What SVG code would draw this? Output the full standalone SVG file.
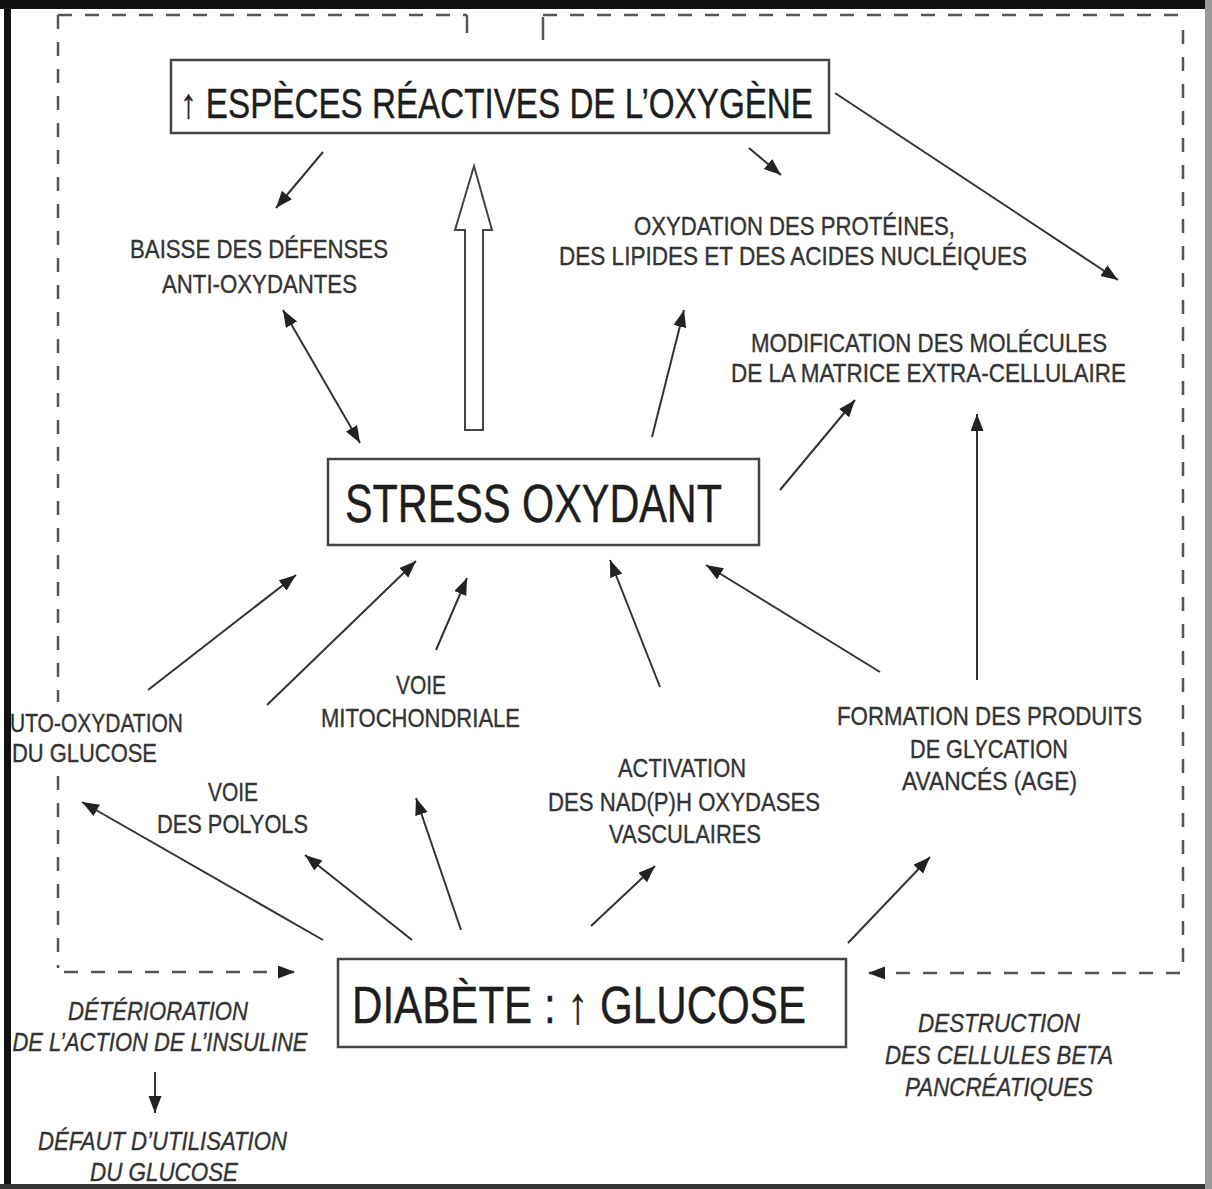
<svg xmlns="http://www.w3.org/2000/svg" width="1212" height="1189" viewBox="0 0 1212 1189">
<style>
.box{fill:#fff;stroke:#444;stroke-width:2.5}
.big{font-family:"Liberation Sans",Arial,sans-serif;fill:#1e1e1e;stroke:#1e1e1e;stroke-width:0.4;text-anchor:middle}
.t{font-family:"Liberation Sans",Arial,sans-serif;font-size:25px;fill:#333;stroke:#333;stroke-width:0.35;text-anchor:middle}
.ti{font-family:"Liberation Sans",Arial,sans-serif;font-size:25px;font-style:italic;fill:#333;stroke:#333;stroke-width:0.35;text-anchor:middle}
.c{fill:none;stroke:#333;stroke-width:2}
.d{fill:none;stroke:#555;stroke-width:2.5;stroke-dasharray:14 13}
</style>
<defs>
<marker id="ah" markerUnits="userSpaceOnUse" markerWidth="18" markerHeight="14" refX="17" refY="6.5" orient="auto-start-reverse">
<path d="M0,0 L17,6.5 L0,13 z" fill="#222"/>
</marker>
</defs>
<rect x="0" y="0" width="1212" height="1189" fill="#fff"/>

<g id="frame-dashed">
<path class="d" d="M58,15 L467,15"/>
<path d="M467,15 L467,33" stroke="#555" stroke-width="2.5"/>
<path d="M543,40 L543,17" stroke="#555" stroke-width="2.5"/>
<path class="d" d="M543,15 L1183,15"/>
<path class="d" d="M58,15 L58,702"/>
<path class="d" d="M58,776 L58,968"/>
<path class="d" d="M1183,30 L1183,972"/>
</g>

<g id="connectors">
<path class="c" d="M323,152 L276,208" marker-end="url(#ah)"/>
<path class="c" d="M749,148 L781,175" marker-end="url(#ah)"/>
<path class="c" d="M835,93 L1118,280" marker-end="url(#ah)"/>
<path class="c" d="M283,310 L360,443" marker-start="url(#ah)" marker-end="url(#ah)"/>
<path class="c" d="M652,437 L684,310" marker-end="url(#ah)"/>
<path class="c" d="M780,490 L855,400" marker-end="url(#ah)"/>
<path class="c" d="M977,680 L977,414" marker-end="url(#ah)"/>
<path class="c" d="M148,690 L296,575" marker-end="url(#ah)"/>
<path class="c" d="M267,705 L416,561" marker-end="url(#ah)"/>
<path class="c" d="M436,650 L467,578" marker-end="url(#ah)"/>
<path class="c" d="M660,687 L610,560" marker-end="url(#ah)"/>
<path class="c" d="M880,672 L706,565" marker-end="url(#ah)"/>
<path class="c" d="M323,940 L82,802" marker-end="url(#ah)"/>
<path class="c" d="M412,940 L305,855" marker-end="url(#ah)"/>
<path class="c" d="M461,930 L416,798" marker-end="url(#ah)"/>
<path class="c" d="M591,926 L655,866" marker-end="url(#ah)"/>
<path class="c" d="M848,943 L930,857" marker-end="url(#ah)"/>
<path class="c" d="M155,1072 L155,1113" marker-end="url(#ah)"/>
<path class="d" d="M64,972 L295,972" marker-end="url(#ah)"/>
<path class="d" d="M1180,973 L868,973" marker-end="url(#ah)"/>
<polygon points="465,430 483,430 483,230 492,230 474,166 455,230 465,230" fill="#fff" stroke="#444" stroke-width="2"/>
</g>

<g id="node-especes">
<rect class="box" x="171" y="60" width="658" height="73"/>
<text class="big" x="496.5" y="118" font-size="42" textLength="633" lengthAdjust="spacingAndGlyphs">↑ ESPÈCES RÉACTIVES DE L’OXYGÈNE</text>
</g>
<g id="node-stress">
<rect class="box" x="328" y="459" width="431" height="86"/>
<text class="big" x="533.5" y="522" font-size="54" textLength="377" lengthAdjust="spacingAndGlyphs">STRESS OXYDANT</text>
</g>
<g id="node-diabete">
<rect class="box" x="338" y="959" width="508" height="88"/>
<text class="big" x="579" y="1023" font-size="52" textLength="454" lengthAdjust="spacingAndGlyphs">DIABÈTE : ↑ GLUCOSE</text>
</g>

<g id="node-baisse">
<text class="t" x="259" y="258" textLength="258" lengthAdjust="spacingAndGlyphs">BAISSE DES DÉFENSES</text>
<text class="t" x="259.5" y="293" textLength="195" lengthAdjust="spacingAndGlyphs">ANTI-OXYDANTES</text>
</g>
<g id="node-oxydation">
<text class="t" x="794.5" y="235" textLength="321" lengthAdjust="spacingAndGlyphs">OXYDATION DES PROTÉINES,</text>
<text class="t" x="793" y="265" textLength="468" lengthAdjust="spacingAndGlyphs">DES LIPIDES ET DES ACIDES NUCLÉIQUES</text>
</g>
<g id="node-modification">
<text class="t" x="929" y="352" textLength="356" lengthAdjust="spacingAndGlyphs">MODIFICATION DES MOLÉCULES</text>
<text class="t" x="928.5" y="382" textLength="395" lengthAdjust="spacingAndGlyphs">DE LA MATRICE EXTRA-CELLULAIRE</text>
</g>
<g id="node-mito">
<text class="t" x="421" y="694" textLength="50" lengthAdjust="spacingAndGlyphs">VOIE</text>
<text class="t" x="420.5" y="727" textLength="199" lengthAdjust="spacingAndGlyphs">MITOCHONDRIALE</text>
</g>
<g id="node-auto">
<text class="t" x="10" y="732" style="text-anchor:start" textLength="173" lengthAdjust="spacingAndGlyphs">UTO-OXYDATION</text>
<text class="t" x="12" y="762" style="text-anchor:start" textLength="145" lengthAdjust="spacingAndGlyphs">DU GLUCOSE</text>
</g>
<g id="node-polyols">
<text class="t" x="233" y="801" textLength="50" lengthAdjust="spacingAndGlyphs">VOIE</text>
<text class="t" x="232.5" y="833" textLength="151" lengthAdjust="spacingAndGlyphs">DES POLYOLS</text>
</g>
<g id="node-nadph">
<text class="t" x="682" y="777" textLength="128" lengthAdjust="spacingAndGlyphs">ACTIVATION</text>
<text class="t" x="684" y="811" textLength="272" lengthAdjust="spacingAndGlyphs">DES NAD(P)H OXYDASES</text>
<text class="t" x="685" y="843" textLength="152" lengthAdjust="spacingAndGlyphs">VASCULAIRES</text>
</g>
<g id="node-age">
<text class="t" x="989.5" y="725" textLength="305" lengthAdjust="spacingAndGlyphs">FORMATION DES PRODUITS</text>
<text class="t" x="989" y="758" textLength="158" lengthAdjust="spacingAndGlyphs">DE GLYCATION</text>
<text class="t" x="989.5" y="790" textLength="175" lengthAdjust="spacingAndGlyphs">AVANCÉS (AGE)</text>
</g>
<g id="node-insuline">
<text class="ti" x="158" y="1020" textLength="180" lengthAdjust="spacingAndGlyphs">DÉTÉRIORATION</text>
<text class="ti" x="160" y="1051" textLength="295" lengthAdjust="spacingAndGlyphs">DE L’ACTION DE L’INSULINE</text>
</g>
<g id="node-defaut">
<text class="ti" x="162.5" y="1150" textLength="249" lengthAdjust="spacingAndGlyphs">DÉFAUT D’UTILISATION</text>
<text class="ti" x="164" y="1181" textLength="148" lengthAdjust="spacingAndGlyphs">DU GLUCOSE</text>
</g>
<g id="node-destruction">
<text class="ti" x="999" y="1032" textLength="162" lengthAdjust="spacingAndGlyphs">DESTRUCTION</text>
<text class="ti" x="999" y="1064" textLength="228" lengthAdjust="spacingAndGlyphs">DES CELLULES BETA</text>
<text class="ti" x="999" y="1096" textLength="188" lengthAdjust="spacingAndGlyphs">PANCRÉATIQUES</text>
</g>

<g id="border">
<rect x="0" y="0" width="1212" height="9" fill="#111"/>
<rect x="4" y="0" width="7" height="1189" fill="#111"/>
<rect x="0" y="1184" width="1212" height="5" fill="#333"/>
<rect x="1205" y="0" width="7" height="1189" fill="#999"/>
</g>
</svg>
